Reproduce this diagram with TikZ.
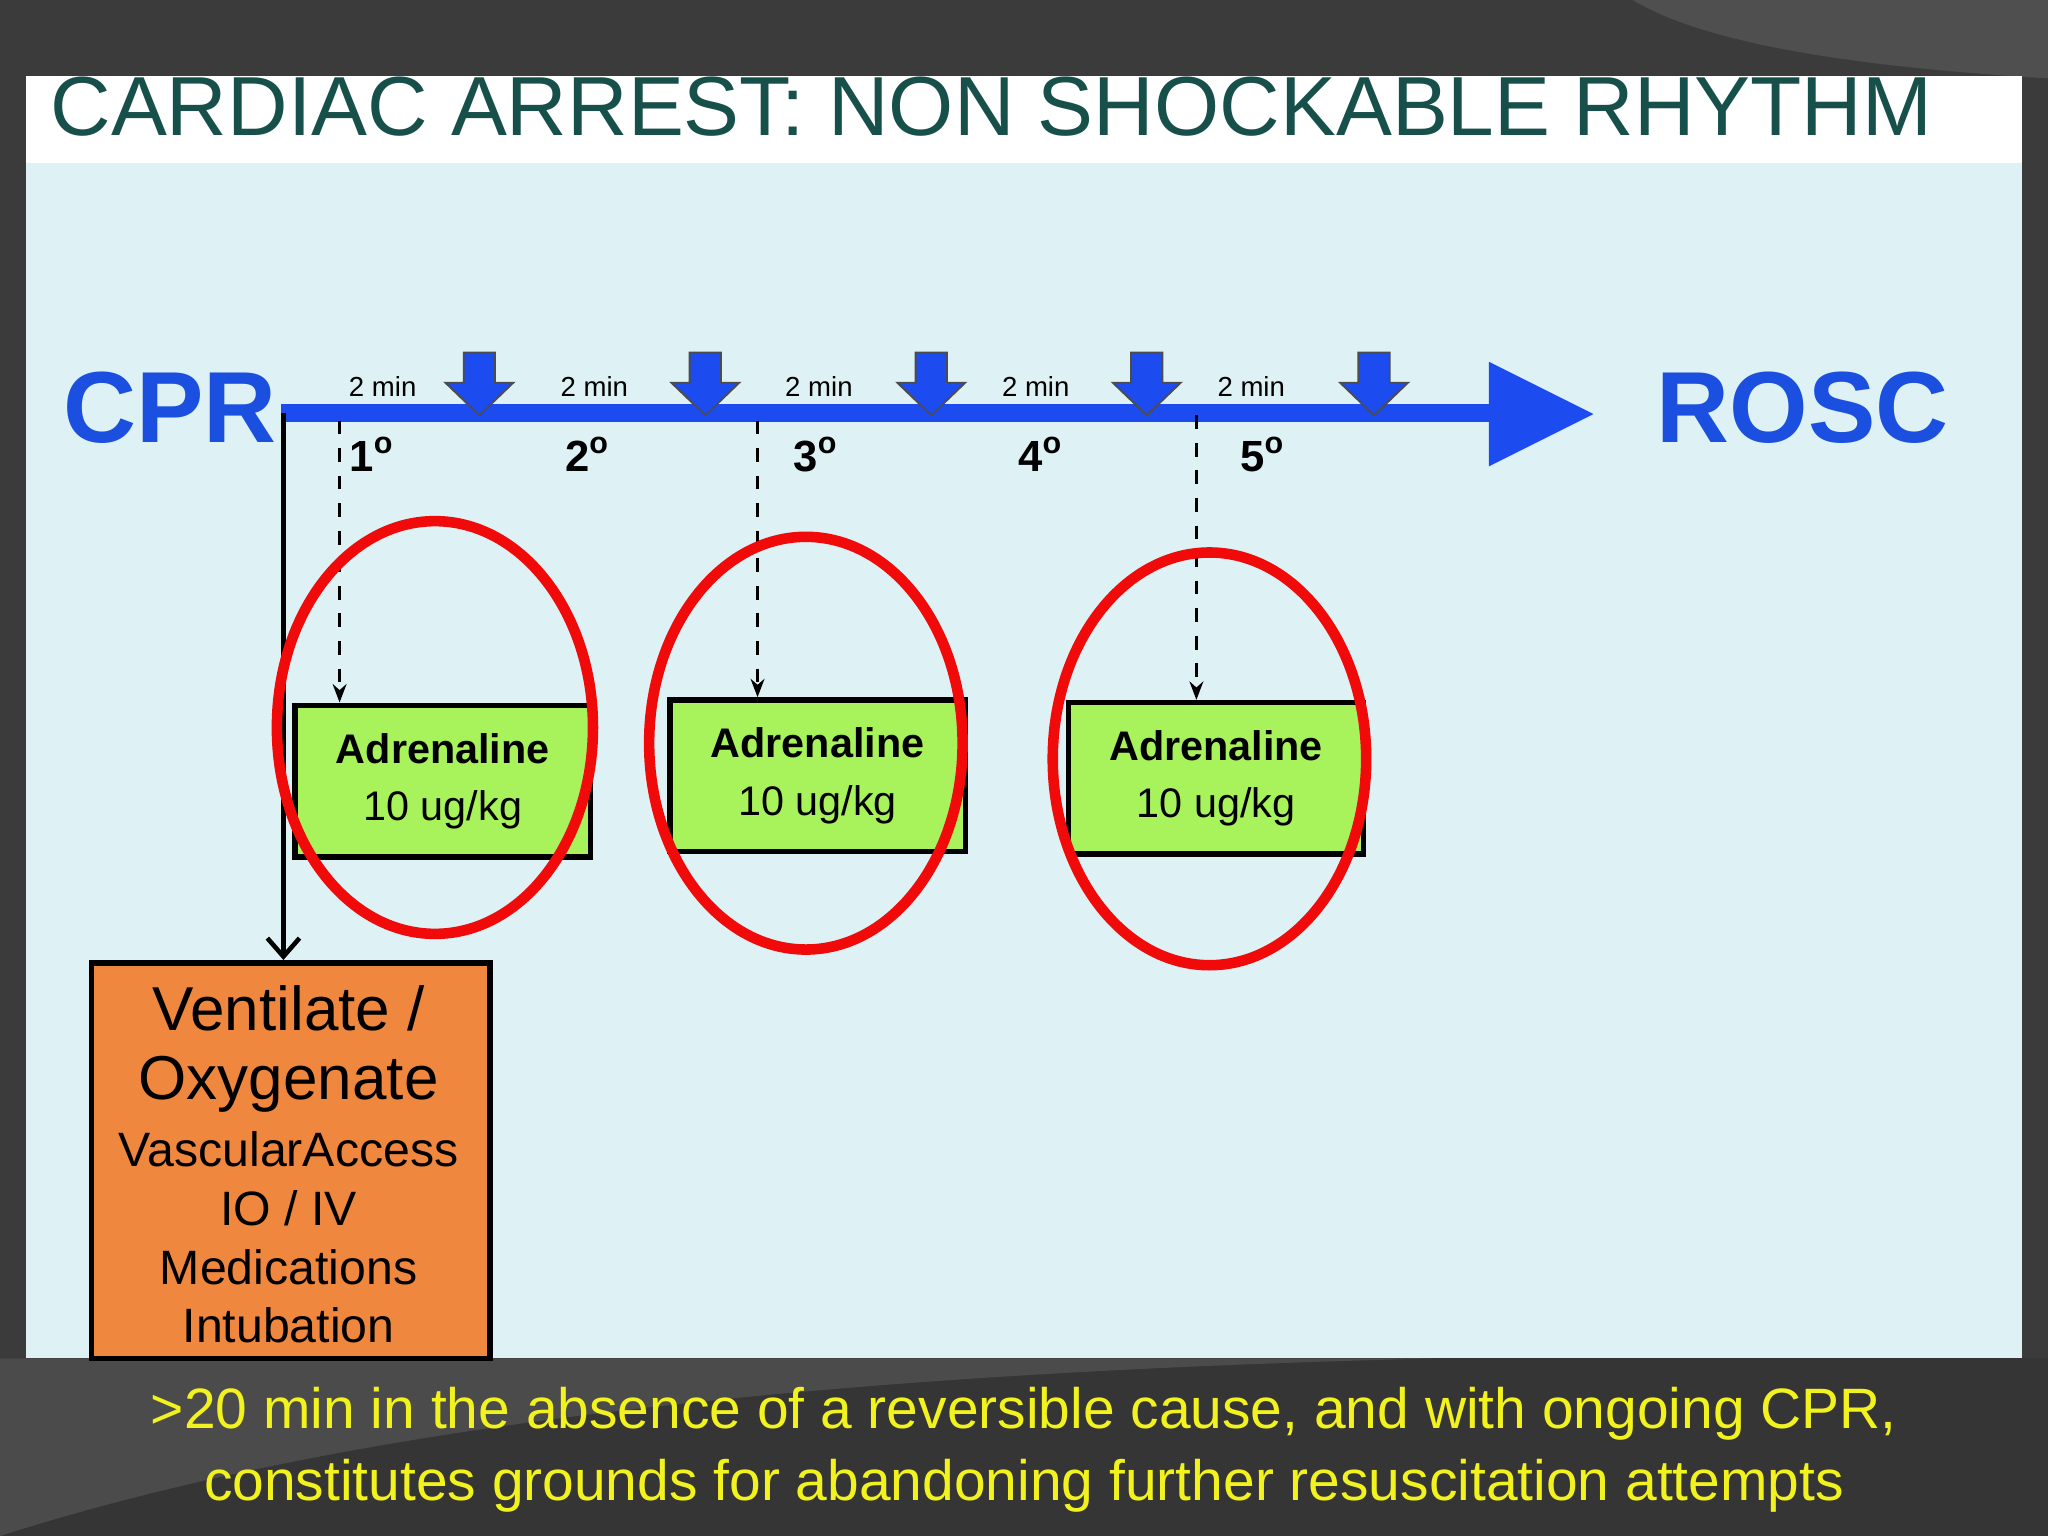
\documentclass[tikz,border=0pt]{standalone}
\usepackage{fontspec}
\setmainfont{Liberation Sans}
\usetikzlibrary{arrows.meta}
\definecolor{bgdark}{HTML}{3B3B3B}
\definecolor{panel}{HTML}{DEF1F4}
\definecolor{titlec}{HTML}{17504A}
\definecolor{cprblue}{HTML}{1A4FE0}
\definecolor{arrblue}{HTML}{1C4BF0}
\definecolor{greenbox}{HTML}{A8F25C}
\definecolor{orangebox}{HTML}{F0873E}
\definecolor{ringred}{HTML}{F00A0A}
\definecolor{yel}{HTML}{F2F21E}
\tikzset{
  dose/.style={draw=black,line width=1.2pt,fill=greenbox,minimum width=2.26cm,minimum height=1.16cm,inner sep=0pt,align=center,font=\fontsize{9}{12.5}\selectfont},
  ring/.style={draw=ringred,line width=2.3pt},
  mins/.style={font=\rmfamily\fontsize{6}{7}\selectfont},
  cyc/.style={font=\bfseries\fontsize{9.5}{12}\selectfont},
  dashline/.style={dashed,line width=0.8pt,-{Stealth[length=4pt]}},
  dn/.style={fill=arrblue,draw=black!70,line width=0.4pt}
}
\newcommand{\dnarrow}[1]{\filldraw[dn] (#1-12,270)--(#1+12,270)--(#1+12,293)--(#1+26,293)--(#1,318)--(#1-26,293)--(#1-12,293)--cycle;}
\begin{document}
\begin{tikzpicture}[x=0.01cm,y=-0.01cm]
\useasboundingbox (0,0) rectangle (1568,1176);
\fill[bgdark] (0,0) rectangle (1568,1176);
\fill[white!10!bgdark] (1250,0) .. controls (1300,30) and (1400,50) .. (1568,60) -- (1568,0) -- cycle;
\fill[black!10!bgdark] (0,1040) rectangle (1568,1176);
\fill[white!8!bgdark] (0,1176) .. controls (300,1080) and (700,1050) .. (1100,1040) -- (0,1040) -- cycle;
\fill[panel] (20,58) rectangle (1548,1040);
\fill[white] (20,58) rectangle (1548,125);
\begin{scope}
\clip (20,58) rectangle (1548,125);
\node[text=titlec,anchor=west,inner sep=0pt] (title) at (38,82) {\resizebox{14.4cm}{!}{\fontsize{20}{22}\selectfont CARDIAC ARREST: NON SHOCKABLE RHYTHM}};
\end{scope}
\node[text=cprblue,font=\bfseries\fontsize{22}{26}\selectfont] (cpr) at (130,312) {CPR};
\node[text=cprblue,font=\bfseries\fontsize{22}{26}\selectfont] (rosc) at (1380,312) {ROSC};
\fill[arrblue] (215,309) rectangle (1142,323);
\fill[arrblue] (1140,277) -- (1220,317) -- (1140,357) -- cycle;
\foreach \x in {367,540,713,878,1052}{\dnarrow{\x}}
\foreach \x in {293,455,627,793,958}{\node[mins] at (\x,296) {2 min};}
\foreach \x/\n in {285/1,450/2,625/3,797/4,967/5}{\node[cyc] at (\x,348) {\n\textsuperscript{o}};}
\node[dose] (d1) at (339,598) {\textbf{Adrenaline}\\10 ug/kg};
\node[dose] (d2) at (626,594) {\textbf{Adrenaline}\\10 ug/kg};
\node[dose] (d3) at (931,596) {\textbf{Adrenaline}\\10 ug/kg};
\coordinate (t1) at (260,322);
\coordinate (t2) at (580,322);
\coordinate (t3) at (916,318);
\draw[dashline] (t1) -- (t1 |- d1.north);
\draw[dashline] (t2) -- (t2 |- d2.north);
\draw[dashline] (t3) -- (t3 |- d3.north);
\node[draw=black,line width=1.2pt,fill=orangebox,minimum width=3.05cm,minimum height=3.03cm,inner sep=0pt,anchor=north west] (vent) at (68,735) {};
\node[font=\fontsize{13.5}{16}\selectfont] at (221,772) {Ventilate /};
\node[font=\fontsize{13.5}{16}\selectfont] at (221,830) {Oxygenate};
\node[font=\fontsize{10.5}{13}\selectfont] at (221,880) {VascularAccess};
\node[font=\fontsize{10.5}{13}\selectfont] at (221,925) {IO / IV};
\node[font=\fontsize{10.5}{13}\selectfont] at (221,970) {Medications};
\node[font=\fontsize{10.5}{13}\selectfont] at (221,1015) {Intubation};
\coordinate (vs) at (217,316);
\draw[line width=1pt,-{Straight Barb[length=4pt,width=7pt]}] (vs) -- (vs |- vent.north);
\draw[ring] (333,557) ellipse [x radius=121, y radius=158];
\draw[ring] (617,569) ellipse [x radius=120, y radius=158];
\draw[ring] (926,581) ellipse [x radius=120, y radius=158];
\node[text=yel,font=\fontsize{12.4}{14.5}\selectfont,align=center] (foot) at (784,1110) {>20 min in the absence of a reversible cause, and with ongoing CPR,\\[1pt]constitutes grounds for abandoning further resuscitation attempts};
\end{tikzpicture}
\end{document}
